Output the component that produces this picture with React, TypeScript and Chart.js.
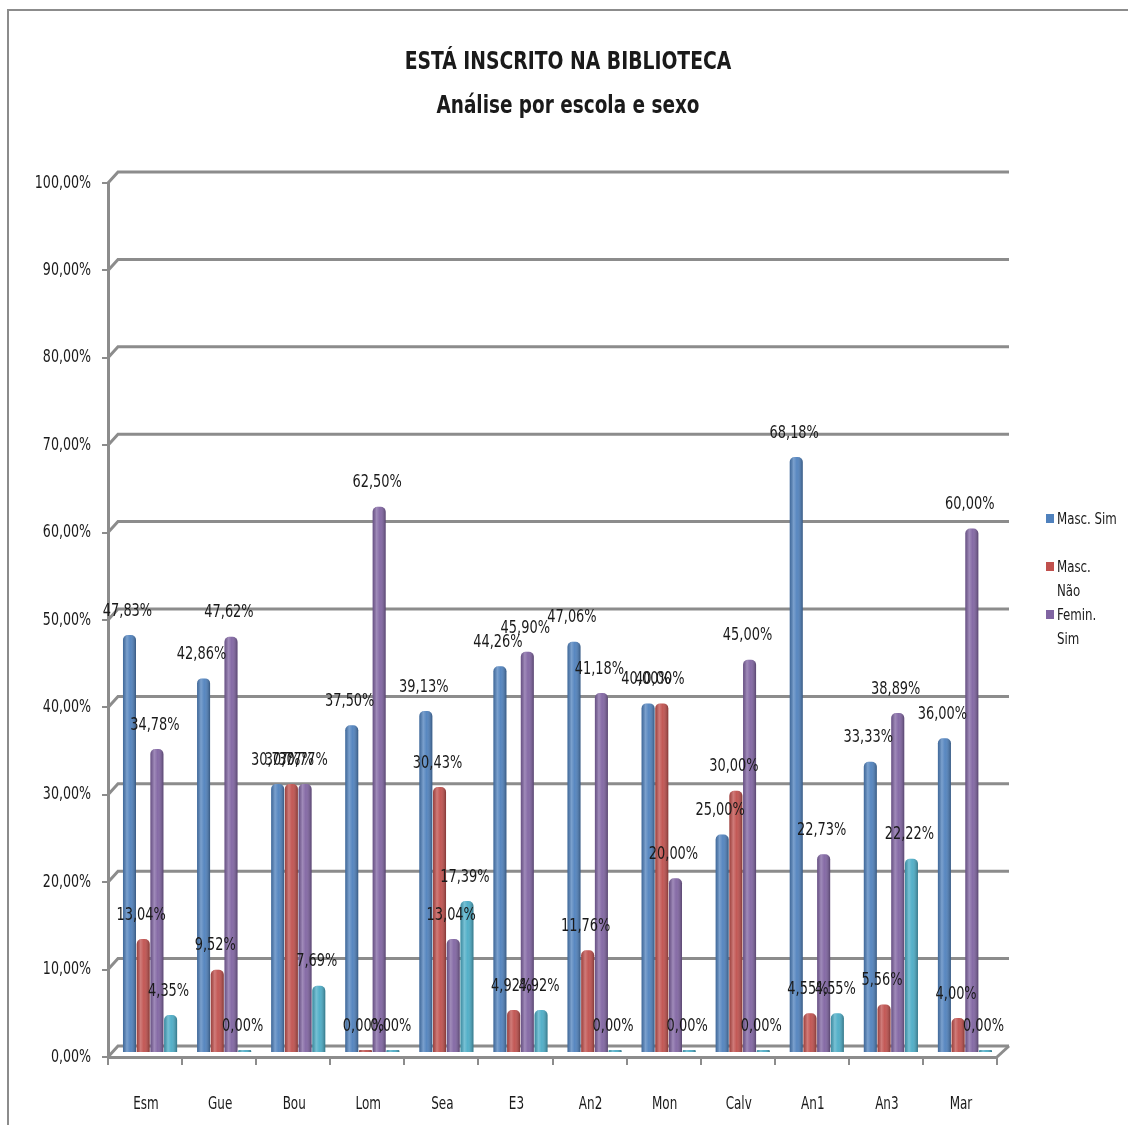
import React, { useEffect, useRef } from 'react';
import { Chart, registerables } from 'chart.js';

Chart.register(...registerables);

// ---------- data ----------
const categories = ['Esm', 'Gue', 'Bou', 'Lom', 'Sea', 'E3', 'An2', 'Mon', 'Calv', 'An1', 'An3', 'Mar'];
const mascSim = [47.83, 42.86, 30.77, 37.5, 39.13, 44.26, 47.06, 40.0, 25.0, 68.18, 33.33, 36.0];
const mascNao = [13.04, 9.52, 30.77, 0, 30.43, 4.92, 11.76, 40.0, 30.0, 4.55, 5.56, 4.0];
const feminSim = [34.78, 47.62, 30.77, 62.5, 13.04, 45.9, 41.18, 20.0, 45.0, 22.73, 38.89, 60.0];
const feminNao = [4.35, 0, 7.69, 0, 17.39, 4.92, 0, 0, 0, 4.55, 22.22, 0];
const seriesNames = ['Masc. Sim', 'Masc. Não', 'Femin. Sim', 'Femin. Não'];
const legendLines = [['Masc. Sim'], ['Masc.', 'Não'], ['Femin.', 'Sim']];
const titleLines = ['ESTÁ INSCRITO NA BIBLIOTECA', 'Análise por escola e sexo'];
const yMin = 0;
const yMax = 100;
const yStep = 10;

// ---------- style ----------
const FONT = "'DejaVu Sans Condensed', 'DejaVu Sans', sans-serif";
const GRID = '#8c8c8c';
const TEXT = '#1a1a1a';
const COLORS = ['#4F81BD', '#C0504D', '#8064A2', '#4BACC6'];
const DX = 10;
const DY = 11;
const SHIFT_X = 5;
const SHIFT_Y = -4;

const fmt = (v: number) => v.toFixed(2).replace('.', ',') + '%';

function squeezeText(ctx: any, text: string, x: number, y: number, align: string, sx: number, font: string) {
  ctx.save();
  ctx.translate(x, y);
  ctx.scale(sx, 1);
  ctx.font = font;
  ctx.fillStyle = TEXT;
  ctx.textAlign = align;
  ctx.textBaseline = 'middle';
  ctx.fillText(text, 0, 0);
  ctx.restore();
}

const chartPlugin = {
  id: 'excel3d',
  beforeDraw(chart: any) {
    const { ctx } = chart;
    squeezeText(ctx, titleLines[0], 568, 62, 'center', 0.835, `bold 25px ${FONT}`);
    squeezeText(ctx, titleLines[1], 568, 106, 'center', 0.82, `bold 25px ${FONT}`);
  },
  afterDraw(chart: any) {
    const { ctx } = chart;
    const ys = chart.scales.y;
    const xs = chart.scales.x;
    ys.ticks.forEach((t: any) => {
      squeezeText(ctx, fmt(Number(t.value)), 91, ys.getPixelForValue(t.value), 'right', 0.78, `18px ${FONT}`);
    });
    categories.forEach((c, i) => {
      squeezeText(ctx, c, xs.getPixelForValue(i) + 1, 1104, 'center', 0.74, `18px ${FONT}`);
    });
  },
  beforeDatasetsDraw(chart: any) {
    const { ctx, chartArea } = chart;
    const { left, right, bottom } = chartArea;
    const ys = chart.scales.y;
    ctx.save();
    ctx.strokeStyle = GRID;
    ctx.lineWidth = 3;
    ys.ticks.forEach((t: any) => {
      const py = ys.getPixelForValue(t.value);
      ctx.beginPath();
      ctx.moveTo(left, py);
      ctx.lineTo(left + DX, py - DY);
      ctx.lineTo(right + DX + 2, py - DY);
      ctx.stroke();
    });
    ctx.beginPath();
    ctx.moveTo(right, bottom);
    ctx.lineTo(right + DX + 2, bottom - DY);
    ctx.stroke();
    ctx.restore();
    ctx.save();
    ctx.translate(SHIFT_X, SHIFT_Y);
  },
  afterDatasetsDraw(chart: any) {
    const { ctx } = chart;
    chart.data.datasets.forEach((ds: any, i: number) => {
      const meta = chart.getDatasetMeta(i);
      meta.data.forEach((el: any) => {
        const { x, y, base, width } = el.getProps(['x', 'y', 'base', 'width'], true);
        const l = x - width / 2;
        const h = base - y;
        const r = Math.max(0, Math.min(5, h / 2, width / 2));
        const g = ctx.createLinearGradient(l, 0, l + width, 0);
        g.addColorStop(0, 'rgba(0,0,0,0.18)');
        g.addColorStop(0.3, 'rgba(255,255,255,0.25)');
        g.addColorStop(0.55, 'rgba(255,255,255,0.05)');
        g.addColorStop(1, 'rgba(0,0,0,0.32)');
        ctx.fillStyle = g;
        ctx.beginPath();
        ctx.roundRect(l, y, width, h, [r, r, 0, 0]);
        ctx.fill();
      });
    });
    chart.data.datasets.forEach((ds: any, i: number) => {
      const meta = chart.getDatasetMeta(i);
      meta.data.forEach((el: any, j: number) => {
        const { x, y } = el.getProps(['x', 'y'], true);
        squeezeText(ctx, fmt(ds.data[j]), x - 2, y - 24, 'center', 0.8, `18px ${FONT}`);
      });
    });
    ctx.restore();
  },
};

export default function App() {
  const ref = useRef<HTMLCanvasElement>(null);

  useEffect(() => {
    if (!ref.current) return;
    const series = [mascSim, mascNao, feminSim, feminNao];
    const chart = new Chart(ref.current, {
      type: 'bar',
      data: {
        labels: categories,
        datasets: series.map((d, i) => ({
          label: seriesNames[i],
          data: d,
          backgroundColor: COLORS[i],
          borderWidth: 0,
          borderRadius: { topLeft: 5, topRight: 5, bottomLeft: 0, bottomRight: 0 },
          borderSkipped: false,
          minBarLength: 3,
          categoryPercentage: 0.74,
          barPercentage: 0.95,
        })),
      },
      options: {
        animation: false,
        responsive: false,
        events: [],
        layout: { padding: { left: 0, top: 183, right: 131, bottom: 8 } },
        plugins: {
          legend: { display: false },
          title: { display: false },
          tooltip: { enabled: false },
        },
        scales: {
          x: {
            grid: {
              offset: true,
              drawOnChartArea: false,
              drawTicks: true,
              tickLength: 8,
              color: GRID,
              lineWidth: 2,
            },
            border: { display: true, color: GRID, width: 3 },
            ticks: { display: false },
            afterFit(s: any) {
              s.height = 60;
            },
          },
          y: {
            min: yMin,
            max: yMax,
            ticks: { stepSize: yStep, display: false },
            grid: { drawOnChartArea: false, tickLength: 6, color: GRID, lineWidth: 2 },
            border: { display: true, color: GRID, width: 3 },
            afterFit(s: any) {
              s.width = 108;
            },
          },
        },
      },
      plugins: [chartPlugin],
    } as any);
    return () => chart.destroy();
  }, []);

  return (
    <div style={{ position: 'absolute', left: 0, top: 0, width: 1128, height: 1125, background: '#fff', overflow: 'hidden' }}>
      <div
        style={{
          position: 'absolute',
          left: 7,
          top: 9,
          width: 1130,
          height: 1130,
          borderTop: `2px solid ${GRID}`,
          borderLeft: `2px solid ${GRID}`,
        }}
      />
      <canvas ref={ref} width={1128} height={1125} style={{ position: 'absolute', left: 0, top: 0, display: 'block' }} />
      <div style={{ position: 'absolute', left: 1046, top: 507, fontFamily: FONT, fontSize: 16, color: TEXT }}>
        {legendLines.map((lines, i) => (
          <div key={i} style={{ height: 48, position: 'relative' }}>
            <div style={{ position: 'absolute', left: 0, top: 7, width: 8, height: 9, background: COLORS[i] }} />
            <div
              style={{
                position: 'absolute',
                left: 11,
                top: 0,
                lineHeight: '24px',
                whiteSpace: 'nowrap',
                transform: 'scaleX(0.82)',
                transformOrigin: 'left top',
              }}
            >
              {lines.map((t, k) => (
                <div key={k}>{t}</div>
              ))}
            </div>
          </div>
        ))}
      </div>
    </div>
  );
}
